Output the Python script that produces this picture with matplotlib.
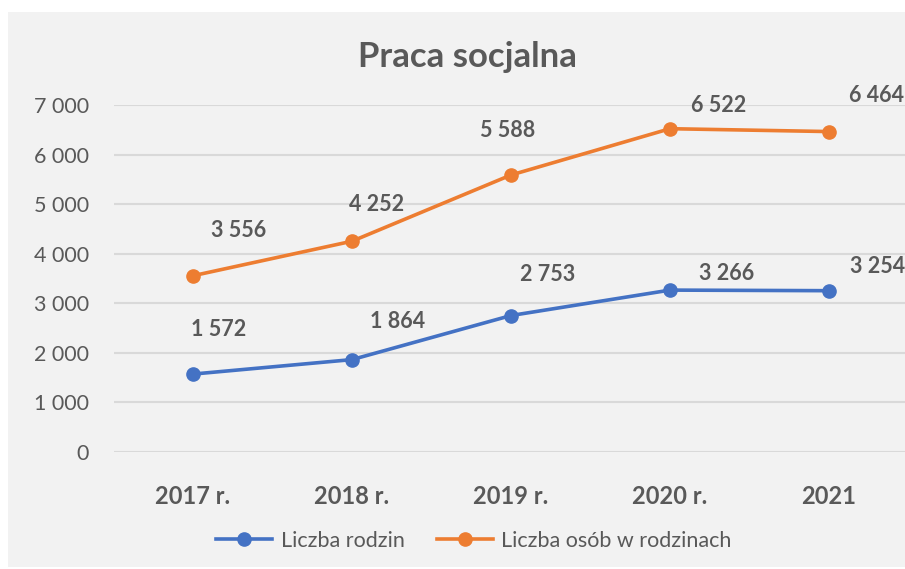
import matplotlib
matplotlib.use("Agg")
import matplotlib.pyplot as plt
from matplotlib.patches import Rectangle

categories = ["2017 r.", "2018 r.", "2019 r.", "2020 r.", "2021"]
rodziny = [1572, 1864, 2753, 3266, 3254]
osoby = [3556, 4252, 5588, 6522, 6464]
series_names = ["Liczba rodzin", "Liczba osób w rodzinach"]
yticks = [0, 1000, 2000, 3000, 4000, 5000, 6000, 7000]

# label offsets in pixels (style only)
off_rodz = [(26, 45), (46, 38), (37, 41), (57, 17), (49, 24)]
off_osob = [(46, 45), (25, 37), (-3, 44), (49, 23), (47, 36)]

BLUE = "#4472C4"
ORANGE = "#ED7D31"
TXT = "#595959"
GRID = "#D9D9D9"
BG = "#F2F2F2"

plt.rcParams['font.family'] = ['Lato', 'DejaVu Sans']

W, H = 905, 569
fig = plt.figure(figsize=(W / 100, H / 100), dpi=100)
fig.patch.set_facecolor("white")
fig.patches.append(Rectangle((8 / W, 2 / H), 1 - 8 / W, (567 - 12) / H,
                             transform=fig.transFigure, facecolor=BG,
                             edgecolor="none", zorder=-5))

ax = fig.add_axes([113.5 / W, (H - 452) / H, (908.5 - 113.5) / W, (452 - 105) / H])
ax.set_zorder(2)
ax.set_facecolor("none")
x = list(range(len(categories)))
ax.set_xlim(-0.5, len(categories) - 0.5)
ax.set_ylim(0, 7000)
ax.set_yticks(yticks)
ax.set_yticklabels([f"{v:,}".replace(",", " ") for v in yticks])
ax.set_xticks(x)
ax.set_xticklabels(categories, fontweight="bold")
ax.tick_params(axis="both", length=0, colors=TXT)
ax.tick_params(axis="y", pad=17.5, labelsize=15.5)
ax.tick_params(axis="x", pad=24, labelsize=17)
for s in ax.spines.values():
    s.set_visible(False)
ax.yaxis.grid(True, color=GRID, linewidth=1.5)
ax.set_axisbelow(True)

l1, = ax.plot(x, rodziny, color=BLUE, linewidth=2.6, marker="o", markersize=9.5,
              label=series_names[0], clip_on=False, zorder=3)
l2, = ax.plot(x, osoby, color=ORANGE, linewidth=2.6, marker="o", markersize=9.5,
              label=series_names[1], clip_on=False, zorder=3)

for xi, v, (dx, dy) in zip(x, rodziny, off_rodz):
    ax.annotate(f"{v:,}".replace(",", " "), (xi, v), xytext=(dx * 0.72, dy * 0.72),
                textcoords="offset points", ha="center", va="center",
                fontsize=15.5, fontweight="bold", color=TXT)
for xi, v, (dx, dy) in zip(x, osoby, off_osob):
    ax.annotate(f"{v:,}".replace(",", " "), (xi, v), xytext=(dx * 0.72, dy * 0.72),
                textcoords="offset points", ha="center", va="center",
                fontsize=15.5, fontweight="bold", color=TXT)

fig.text(467 / W, 1 - 57 / H, "Praca socjalna", ha="center", va="center",
         fontsize=25, fontweight="bold", color=TXT)

fig.legend(handles=[l1, l2], loc="center", bbox_to_anchor=(474 / W, 1 - 541 / H),
           ncol=2, frameon=False, fontsize=15.5, labelcolor=TXT,
           handlelength=2.6, columnspacing=1.5, handletextpad=0.4)

fig.savefig("out.png", dpi=100, facecolor="white")
